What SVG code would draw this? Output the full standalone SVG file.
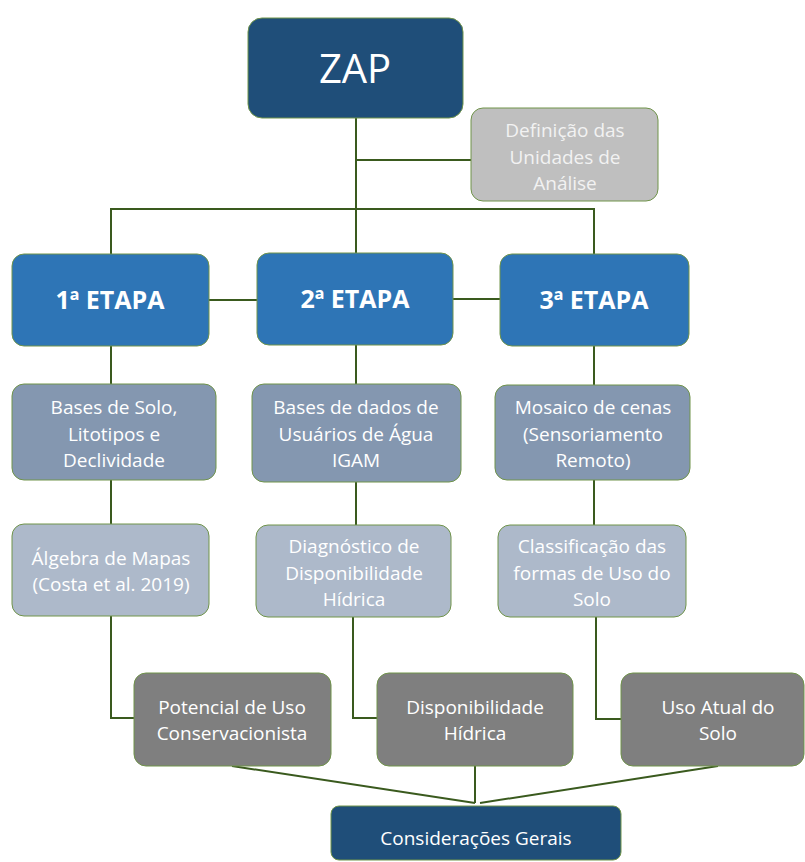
<svg xmlns="http://www.w3.org/2000/svg" width="805" height="862" viewBox="0 0 805 862">
<style>
.n{stroke:#70944a;stroke-width:1}
.dark{fill:#1F4E79}
.mid{fill:#2E75B6}
.b3{fill:#8497B0}
.b4{fill:#ADB9CA}
.b5{fill:#7F7F7F}
.def{fill:#BFBFBF}
text{font-family:"Open Sans","Noto Sans",sans-serif;fill:#FFFFFF;text-anchor:middle;font-size:19px}
.et{font-weight:bold;font-size:25px}
.c line,.c polyline{stroke:#3A5A1E;stroke-width:2;fill:none}
</style>
<g class="c" id="connectors">
<line x1="356" y1="118" x2="356" y2="253"/>
<line x1="356" y1="160" x2="471" y2="160"/>
<polyline points="111,254 111,209 594,209 594,254"/>
<line x1="209" y1="300" x2="257" y2="300"/>
<line x1="453" y1="299" x2="500" y2="299"/>
<line x1="111" y1="346" x2="111" y2="384"/>
<line x1="356" y1="345" x2="356" y2="384"/>
<line x1="594" y1="346" x2="594" y2="385"/>
<line x1="111" y1="480" x2="111" y2="524"/>
<line x1="356" y1="482" x2="356" y2="525"/>
<line x1="594" y1="480" x2="594" y2="525"/>
<polyline points="111,616 111,718 134,718"/>
<polyline points="353,617 353,718 377,718"/>
<polyline points="596,617 596,719 621,719"/>
<line x1="232" y1="766" x2="475" y2="803"/>
<line x1="475" y1="766" x2="475" y2="803"/>
<line x1="718" y1="766" x2="480" y2="803"/>
</g>
<g id="zap"><rect class="n dark" x="248" y="18" width="215" height="100" rx="14"/><text x="355" y="83" style="font-size:40px">ZAP</text></g>
<g id="definicao"><rect class="n def" x="471" y="108" width="187" height="93" rx="12"/>
<text x="565" y="137" style="fill:#F2F2F2">Definição das</text><text x="565" y="164" style="fill:#F2F2F2">Unidades de</text><text x="565" y="190" style="fill:#F2F2F2">Análise</text></g>
<g id="etapa1"><rect class="n mid" x="12" y="254" width="197" height="92" rx="12"/><text class="et" x="110" y="309">1ª ETAPA</text></g>
<g id="etapa2"><rect class="n mid" x="257" y="253" width="196" height="92" rx="12"/><text class="et" x="355" y="308">2ª ETAPA</text></g>
<g id="etapa3"><rect class="n mid" x="500" y="254" width="189" height="92" rx="12"/><text class="et" x="594" y="309">3ª ETAPA</text></g>
<g id="bases-solo"><rect class="n b3" x="12" y="384" width="204" height="96" rx="12"/>
<text x="114" y="414">Bases de Solo,</text><text x="114" y="441">Litotipos e</text><text x="114" y="467">Declividade</text></g>
<g id="bases-dados"><rect class="n b3" x="252" y="384" width="209" height="98" rx="12"/>
<text x="356" y="414">Bases de dados de</text><text x="356" y="441">Usuários de Água</text><text x="356" y="467">IGAM</text></g>
<g id="mosaico"><rect class="n b3" x="495" y="385" width="195" height="95" rx="12"/>
<text x="593" y="414">Mosaico de cenas</text><text x="593" y="441">(Sensoriamento</text><text x="593" y="467">Remoto)</text></g>
<g id="algebra"><rect class="n b4" x="12" y="524" width="197" height="92" rx="12"/>
<text x="111" y="565">Álgebra de Mapas</text><text x="111" y="591">(Costa et al. 2019)</text></g>
<g id="diagnostico"><rect class="n b4" x="256" y="525" width="195" height="92" rx="12"/>
<text x="354" y="553">Diagnóstico de</text><text x="354" y="580">Disponibilidade</text><text x="354" y="606">Hídrica</text></g>
<g id="classificacao"><rect class="n b4" x="498" y="525" width="188" height="92" rx="12"/>
<text x="592" y="553">Classificação das</text><text x="592" y="580">formas de Uso do</text><text x="592" y="606">Solo</text></g>
<g id="potencial"><rect class="n b5" x="134" y="673" width="197" height="93" rx="12"/>
<text x="232" y="714">Potencial de Uso</text><text x="232" y="740">Conservacionista</text></g>
<g id="disponibilidade"><rect class="n b5" x="377" y="673" width="196" height="93" rx="12"/>
<text x="475" y="714">Disponibilidade</text><text x="475" y="740">Hídrica</text></g>
<g id="uso-atual"><rect class="n b5" x="621" y="673" width="183" height="93" rx="12"/>
<text x="718" y="714">Uso Atual do</text><text x="718" y="740">Solo</text></g>
<g id="consideracoes"><rect class="n dark" x="331" y="806" width="290" height="54" rx="8"/>
<text x="476" y="845">Considerações Gerais</text></g>
</svg>
